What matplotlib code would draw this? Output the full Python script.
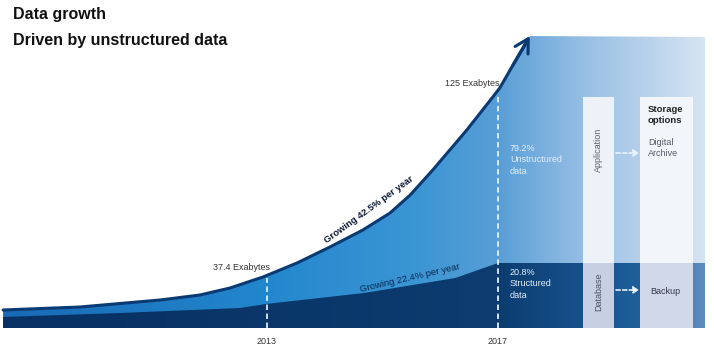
import numpy as np
import matplotlib
matplotlib.use("Agg")
import matplotlib.pyplot as plt
from matplotlib.patches import Polygon, Rectangle
from matplotlib import font_manager

# ---------------- data ----------------
title_lines = ["Data growth", "Driven by unstructured data"]
milestone_years = [2013, 2017]
milestone_labels = ["37.4 Exabytes", "125 Exabytes"]
growth_total_label = "Growing 42.5% per year"
growth_structured_label = "Growing 22.4% per year"
share_unstructured = 79.2
share_structured = 20.8
app_labels = ["Application", "Database"]
storage_labels = ["Digital\nArchive", "Backup"]

# illustrative curve shapes (year, visual height)
total_curve_years = [2008.43, 2009.76, 2011.15, 2011.84, 2012.36, 2012.93, 2013.52, 2014.09,
                     2014.66, 2015.13, 2015.48, 2015.87, 2016.46, 2016.91, 2017.03, 2017.26,
                     2017.50, 2017.55]
total_curve_heights = [18, 21, 28, 33, 40, 51, 65, 81, 98, 115, 133, 158, 198, 231, 240, 263,
                       286, 292]
structured_curve_years = [2008.43, 2010.45, 2012.53, 2012.98, 2014.68, 2016.26, 2017.00]
structured_curve_heights = [11, 15, 20, 24, 35, 50, 65]

# ---------------- layout helpers ----------------
PXY = 57.75  # pixels per year


def px(x):
    return 2013 + (x - 267) / PXY


def py(y):
    return 328 - y


names = {f.name for f in font_manager.fontManager.ttflist}
FONT = 'Liberation Sans Narrow' if 'Liberation Sans Narrow' in names else 'Liberation Sans'
FAM = [FONT, 'DejaVu Sans']

fig = plt.figure(figsize=(7.14, 3.57), dpi=100)
ax = fig.add_axes([0, 0, 1, 1])
ax.axis('off')


def gradient(stops, n=400):
    xs = np.linspace(0, 714, n)
    sx = [s[0] for s in stops]
    cols = np.array([s[1] for s in stops], dtype=float) / 255.0
    arr = np.stack([np.interp(xs, sx, cols[:, k]) for k in range(3)], axis=-1)
    return arr[np.newaxis, :, :]


def grad_fill(verts, stops, z):
    poly = Polygon(verts, closed=True, facecolor='none', edgecolor='none', transform=ax.transData)
    ax.add_patch(poly)
    im = ax.imshow(gradient(stops), extent=(px(0), px(714), py(357), py(0)),
                   aspect='auto', origin='upper', zorder=z, interpolation='bilinear')
    im.set_clip_path(poly)


right_edge = px(705)
light_stops = [(0, (25, 105, 180)), (267, (35, 135, 205)), (420, (60, 150, 212)),
               (498, (88, 158, 214)), (583, (150, 190, 228)), (705, (214, 228, 242))]
dark_stops = [(0, (8, 48, 98)), (498, (12, 60, 112)), (583, (22, 82, 138)),
              (640, (30, 95, 155)), (705, (95, 140, 190))]

light_verts = list(zip(total_curve_years, total_curve_heights)) + \
    [(right_edge, 291), (right_edge, 0), (total_curve_years[0], 0)]
grad_fill(light_verts, light_stops, 1)

dark_verts = list(zip(structured_curve_years, structured_curve_heights)) + \
    [(right_edge, structured_curve_heights[-1]), (right_edge, 0), (structured_curve_years[0], 0)]
grad_fill(dark_verts, dark_stops, 2)

band = structured_curve_heights[-1]
col_top = 231
# columns
for (x0, x1, up, low) in [(583, 614, '#edf2f9', '#c7cfe3'), (640, 693, '#f2f6fb', '#d0d8ea')]:
    ax.add_patch(Rectangle((px(x0), band), px(x1) - px(x0), col_top - band, facecolor=up,
                           edgecolor='none', zorder=3))
    ax.add_patch(Rectangle((px(x0), 0), px(x1) - px(x0), band, facecolor=low,
                           edgecolor='none', zorder=3))

# dashed verticals
ax.plot([milestone_years[0]] * 2, [0, 50], color='#d8ecfa', lw=1.3, ls=(0, (3, 2)), zorder=4)
ax.plot([milestone_years[1]] * 2, [0, 233], color='#e6f1fa', lw=1.3, ls=(0, (3, 2)), zorder=4)

# growth curve with arrow
ax.plot(total_curve_years[:-1], total_curve_heights[:-1], color='#0a3a74', lw=2.2,
        solid_capstyle='round', solid_joinstyle='round', zorder=5)
ax.annotate('', xy=(total_curve_years[-1], total_curve_heights[-1]),
            xytext=(total_curve_years[-3], total_curve_heights[-3]),
            arrowprops=dict(arrowstyle='->,head_length=0.8,head_width=0.45', color='#0a3a74',
                            lw=2.2, shrinkA=0, shrinkB=0, mutation_scale=12), zorder=5)

# dashed arrows
for h in [175, 38]:
    ax.annotate('', xy=(px(639), h), xytext=(px(616), h),
                arrowprops=dict(arrowstyle='-|>,head_length=0.4,head_width=0.25', color='#e8f2fb',
                                lw=1.2, ls=(0, (2.5, 1.5)), shrinkA=0, shrinkB=0, mutation_scale=8),
                zorder=6)

# titles
ax.text(px(13), py(15), title_lines[0], family=FAM, fontsize=11.5, fontweight='bold',
        color='#111111', ha='left', va='center')
ax.text(px(13), py(40), title_lines[1], family=FAM, fontsize=11.5, fontweight='bold',
        color='#111111', ha='left', va='center')

# labels
small = 6.5
ax.text(px(242), py(267), milestone_labels[0], family=FAM, fontsize=small, color='#333333',
        ha='center', va='center')
ax.text(px(472), py(83), milestone_labels[1], family=FAM, fontsize=small, color='#333333',
        ha='center', va='center')
for yr in milestone_years:
    ax.text(yr, py(341), str(yr), family=FAM, fontsize=small, color='#333333',
            ha='center', va='center')

ax.text(px(369), py(210), growth_total_label, family=FAM, fontsize=6.8, fontweight='bold',
        color='#0a1a33', rotation=36, rotation_mode='anchor', ha='center', va='center', zorder=6)
ax.text(px(410), py(278), growth_structured_label, family=FAM, fontsize=6.8,
        color='#0a2850', rotation=13, rotation_mode='anchor', ha='center', va='center', zorder=6)

ax.text(px(510), py(160), f"{share_unstructured}%\nUnstructured\ndata", family=FAM,
        fontsize=small, color='#e4eef8', ha='left', va='center', linespacing=1.35, zorder=6)
ax.text(px(510), py(284), f"{share_structured}%\nStructured\ndata", family=FAM,
        fontsize=small, color='#e4eef8', ha='left', va='center', linespacing=1.35, zorder=6)

ax.text(px(598.5), py(150), app_labels[0], family=FAM, fontsize=small, color='#5a6270',
        rotation=90, ha='center', va='center', zorder=6)
ax.text(px(598.5), py(292), app_labels[1], family=FAM, fontsize=small, color='#4a5262',
        rotation=90, ha='center', va='center', zorder=6)

ax.text(px(648), py(115), "Storage\noptions", family=FAM, fontsize=small + 0.3, fontweight='bold',
        color='#222222', ha='left', va='center', linespacing=1.25, zorder=6)
ax.text(px(648), py(148), storage_labels[0], family=FAM, fontsize=small, color='#555a66',
        ha='left', va='center', linespacing=1.3, zorder=6)
ax.text(px(665), py(291), storage_labels[1], family=FAM, fontsize=small, color='#333845',
        ha='center', va='center', zorder=6)

ax.set_xlim(px(0), px(714))
ax.set_ylim(py(357), py(0))

fig.savefig('out.png', dpi=100, facecolor='white')
